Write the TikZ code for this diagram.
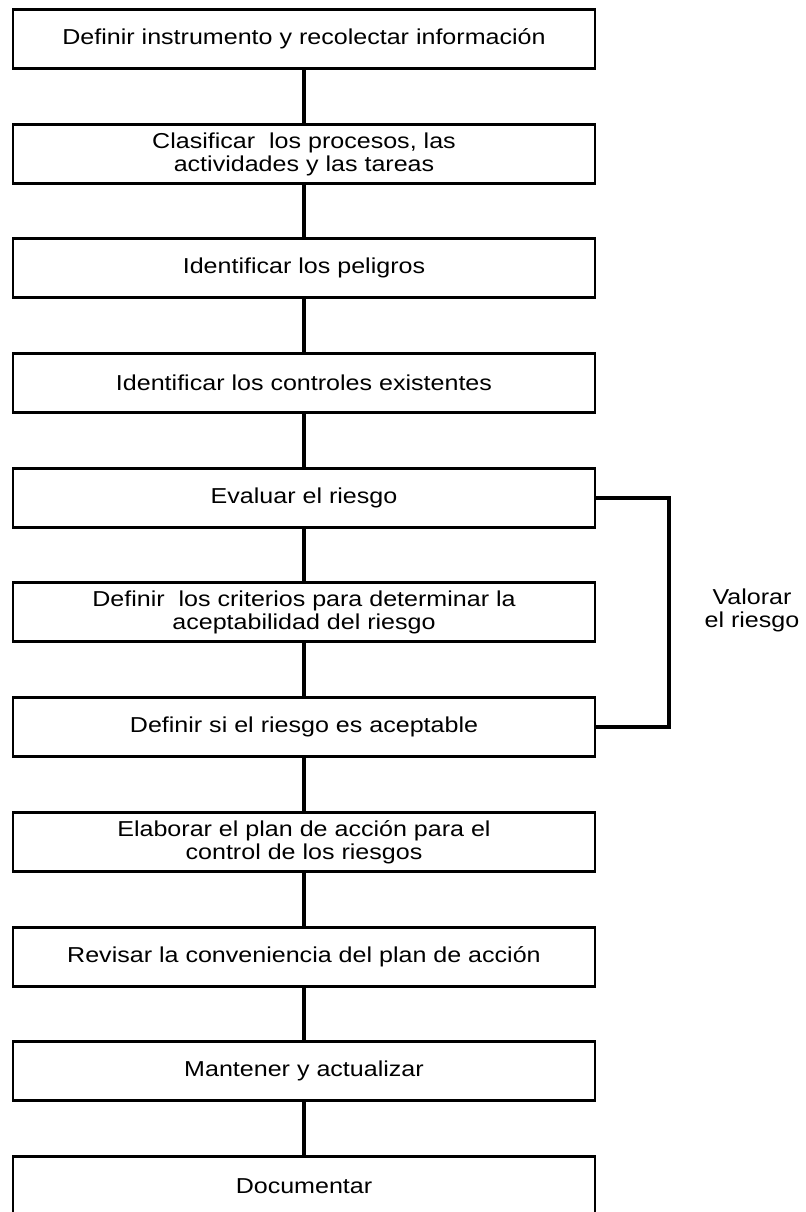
\documentclass[tikz,border=0pt]{standalone}
\usepackage{fontspec}
\newfontfamily\boxfont{Liberation Sans}[FakeStretch=1.16]
\begin{document}
\begin{tikzpicture}[x=0.5pt,y=-0.5pt,box_node/.style={rectangle,draw,line width=1.2pt,minimum width=291pt,minimum height=29.5pt,inner sep=2pt,align=center,font=\boxfont\fontsize{10.8}{11.5}\selectfont},note_node/.style={align=center,font=\boxfont\fontsize{10.8}{11.5}\selectfont},link/.style={line width=2pt}]
		
		\useasboundingbox (0,0) rectangle (806,1212);
		
		\node[box_node] (1) at (304,39) {Definir instrumento y recolectar informaci\'on};
		\node[box_node] (2) at (304,154) {Clasificar\ \ los procesos, las\\actividades y las tareas};
		\node[box_node] (3) at (304,268) {Identificar los peligros};
		\node[box_node] (4) at (304,383) {Identificar los controles existentes};
		\node[box_node] (5) at (304,498) {Evaluar el riesgo};
		\node[box_node] (6) at (304,612) {Definir\ \ los criterios para determinar la\\aceptabilidad del riesgo};
		\node[box_node] (7) at (304,727) {Definir si el riesgo es aceptable};
		\node[box_node] (8) at (304,842) {Elaborar el plan de acci\'on para el\\control de los riesgos};
		\node[box_node] (9) at (304,957) {Revisar la conveniencia del plan de acci\'on};
		\node[box_node] (10) at (304,1071) {Mantener y actualizar};
		\node[box_node] (11) at (304,1186) {Documentar};
		\node[note_node] (v) at (752,610) {Valorar\\el riesgo};
		
		\draw[link] (1) -- (2);
		\draw[link] (2) -- (3);
		\draw[link] (3) -- (4);
		\draw[link] (4) -- (5);
		\draw[link] (5) -- (6);
		\draw[link] (6) -- (7);
		\draw[link] (7) -- (8);
		\draw[link] (8) -- (9);
		\draw[link] (9) -- (10);
		\draw[link] (10) -- (11);
		\draw[link] (5.east) -- ++(73,0) |- (7.east);
		\end{tikzpicture}
\end{document}
